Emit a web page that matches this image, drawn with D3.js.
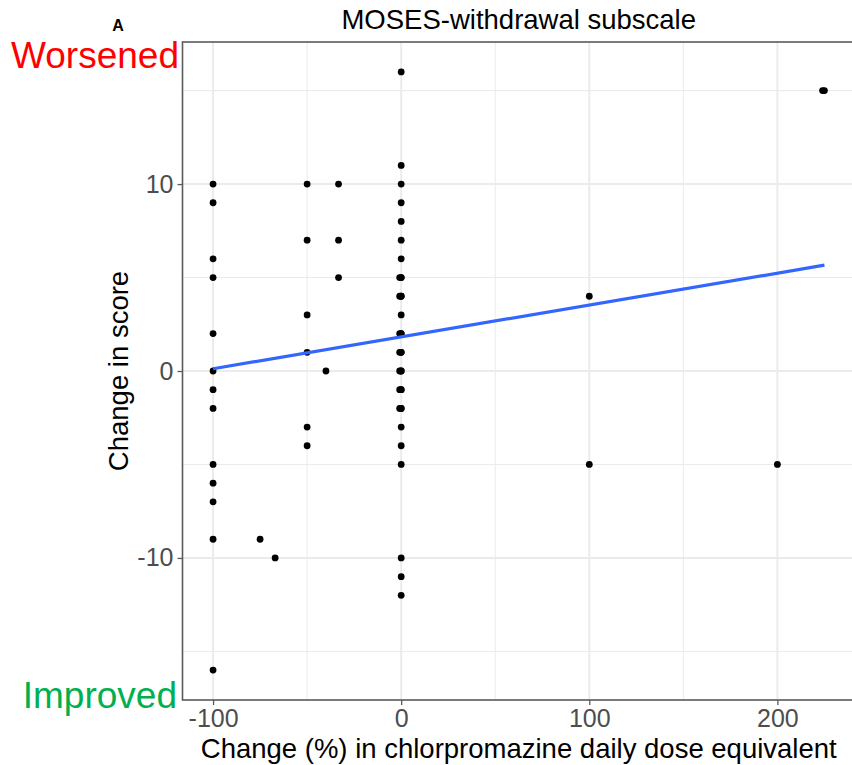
<!DOCTYPE html>
<html>
<head>
<meta charset="utf-8">
<script src="https://cdn.jsdelivr.net/npm/d3@7"></script>
<style>
  html, body { margin: 0; padding: 0; background: #fff; }
  svg { display: block; font-family: "Liberation Sans", Arial, sans-serif; }
</style>
</head>
<body>
<svg id="chart" width="852" height="765"></svg>
<script>
// Change in chlorpromazine-equivalent dose (%) per participant
const doseChange = [
  -100, -100, -100, -100, -100, -100, -100, -100, -100, -100, -100, -100, -100,
  -75, -67,
  -50, -50, -50, -50, -50, -50,
  -40,
  -33.3, -33.3, -33.3,
  0, 0, 0, 0, 0, 0, 0, 0, 0, 0, 0, 0, 0, 0, 0, 0, 0, 0, 0, 0, 0, 0, 0, 0, 0, 0, 0, 0,
  -0.8, -0.8, -0.8, -0.8, -0.8, -0.8, -0.8,
  100, 100,
  200,
  225, 224
];
// Change in MOSES-withdrawal subscale score for the same participants
const scoreChange = [
  10, 9, 6, 5, 2, 0, -1, -2, -5, -6, -7, -9, -16,
  -9, -10,
  10, 7, 3, 1, -3, -4,
  0,
  10, 7, 5,
  16, 11, 10, 9, 8, 7, 6, 5, 4, 3, 2, 1, 0, -1, -2, -3, -4, -5, -10, -11, -12, 5, 4, 2, 1, 0, -1, -2,
  5, 4, 2, 1, 0, -1, -2,
  4, -5,
  -5,
  15, 15
];
// Fitted linear trend, evaluated at the ends of the dose range
const fitDose = [-100, 225];
const fitScore = [0.12, 5.66];

const xTicks = [-100, 0, 100, 200];
const xMinor = [-50, 50, 150];
const yTicks = [-10, 0, 10];
const yMinor = [-15, -5, 5, 15];

const svg = d3.select("#chart");
const panel = { left: 182.5, right: 855, top: 42, bottom: 700 };

const x = d3.scaleLinear().domain([-116.25, 241.25]).range([panel.left, panel.right]);
const y = d3.scaleLinear().domain([-17.6, 17.6]).range([panel.bottom, panel.top]);

const plot = svg.append("g");
plot.append("rect")
  .attr("x", panel.left).attr("y", panel.top)
  .attr("width", panel.right - panel.left).attr("height", panel.bottom - panel.top)
  .attr("fill", "#fff");

// minor grid
plot.selectAll("line.xminor").data(xMinor).join("line")
  .attr("x1", d => x(d)).attr("x2", d => x(d))
  .attr("y1", panel.top).attr("y2", panel.bottom)
  .attr("stroke", "#ebebeb").attr("stroke-width", 1);
plot.selectAll("line.yminor").data(yMinor).join("line")
  .attr("y1", d => y(d)).attr("y2", d => y(d))
  .attr("x1", panel.left).attr("x2", panel.right)
  .attr("stroke", "#ebebeb").attr("stroke-width", 1);
// major grid
plot.selectAll("line.xmajor").data(xTicks).join("line")
  .attr("x1", d => x(d)).attr("x2", d => x(d))
  .attr("y1", panel.top).attr("y2", panel.bottom)
  .attr("stroke", "#ebebeb").attr("stroke-width", 2);
plot.selectAll("line.ymajor").data(yTicks).join("line")
  .attr("y1", d => y(d)).attr("y2", d => y(d))
  .attr("x1", panel.left).attr("x2", panel.right)
  .attr("stroke", "#ebebeb").attr("stroke-width", 2);

// points
const pts = doseChange.map((d, i) => ({ dose: d, score: scoreChange[i] }));
plot.selectAll("circle").data(pts).join("circle")
  .attr("cx", d => x(d.dose)).attr("cy", d => y(d.score))
  .attr("r", 3.4).attr("fill", "#000");

// trend line
const fit = fitDose.map((d, i) => [d, fitScore[i]]);
plot.append("path")
  .attr("d", d3.line().x(d => x(d[0])).y(d => y(d[1]))(fit))
  .attr("fill", "none").attr("stroke", "#3366ff").attr("stroke-width", 3.2);

// panel border
plot.append("rect")
  .attr("x", panel.left).attr("y", panel.top)
  .attr("width", panel.right - panel.left).attr("height", panel.bottom - panel.top)
  .attr("fill", "none").attr("stroke", "#5a5a5a").attr("stroke-width", 1.6);

// axes
const xAxis = svg.append("g").attr("transform", `translate(0,${panel.bottom})`)
  .call(d3.axisBottom(x).tickValues(xTicks).tickSize(5).tickPadding(4).tickFormat(d3.format("d")));
const yAxis = svg.append("g").attr("transform", `translate(${panel.left},0)`)
  .call(d3.axisLeft(y).tickValues(yTicks).tickSize(5).tickPadding(4).tickFormat(d3.format("d")));
[xAxis, yAxis].forEach(a => {
  a.select(".domain").remove();
  a.selectAll(".tick line").attr("stroke", "#5a5a5a").attr("stroke-width", 1.3);
  a.selectAll(".tick text").attr("fill", "#4d4d4d")
    .style("font-size", "25px").style("font-family", "'Liberation Sans', Arial, sans-serif");
});
yAxis.selectAll(".tick text").text(d => d < 0 ? "-" + Math.abs(d) : d);
xAxis.selectAll(".tick text").text(d => d < 0 ? "-" + Math.abs(d) : d);

// titles
svg.append("text")
  .attr("x", (panel.left + panel.right) / 2).attr("y", 29)
  .attr("text-anchor", "middle").style("font-size", "27.5px").attr("fill", "#000")
  .text("MOSES-withdrawal subscale");
svg.append("text")
  .attr("x", (panel.left + panel.right) / 2).attr("y", 758)
  .attr("text-anchor", "middle").style("font-size", "27.5px").attr("fill", "#000")
  .text("Change (%) in chlorpromazine daily dose equivalent");
svg.append("text")
  .attr("transform", `translate(128,${(panel.top + panel.bottom) / 2}) rotate(-90)`)
  .attr("text-anchor", "middle").style("font-size", "27.5px").attr("fill", "#000")
  .text("Change in score");
svg.append("text")
  .attr("x", 118).attr("y", 31).attr("text-anchor", "middle")
  .style("font-size", "16px").style("font-weight", "bold").attr("fill", "#000")
  .text("A");
svg.append("text")
  .attr("x", 179).attr("y", 68).attr("text-anchor", "end")
  .style("font-size", "37px").attr("fill", "#ff0000")
  .text("Worsened");
svg.append("text")
  .attr("x", 177).attr("y", 708).attr("text-anchor", "end")
  .style("font-size", "37px").attr("fill", "#00b050")
  .text("Improved");
</script>
</body>
</html>
